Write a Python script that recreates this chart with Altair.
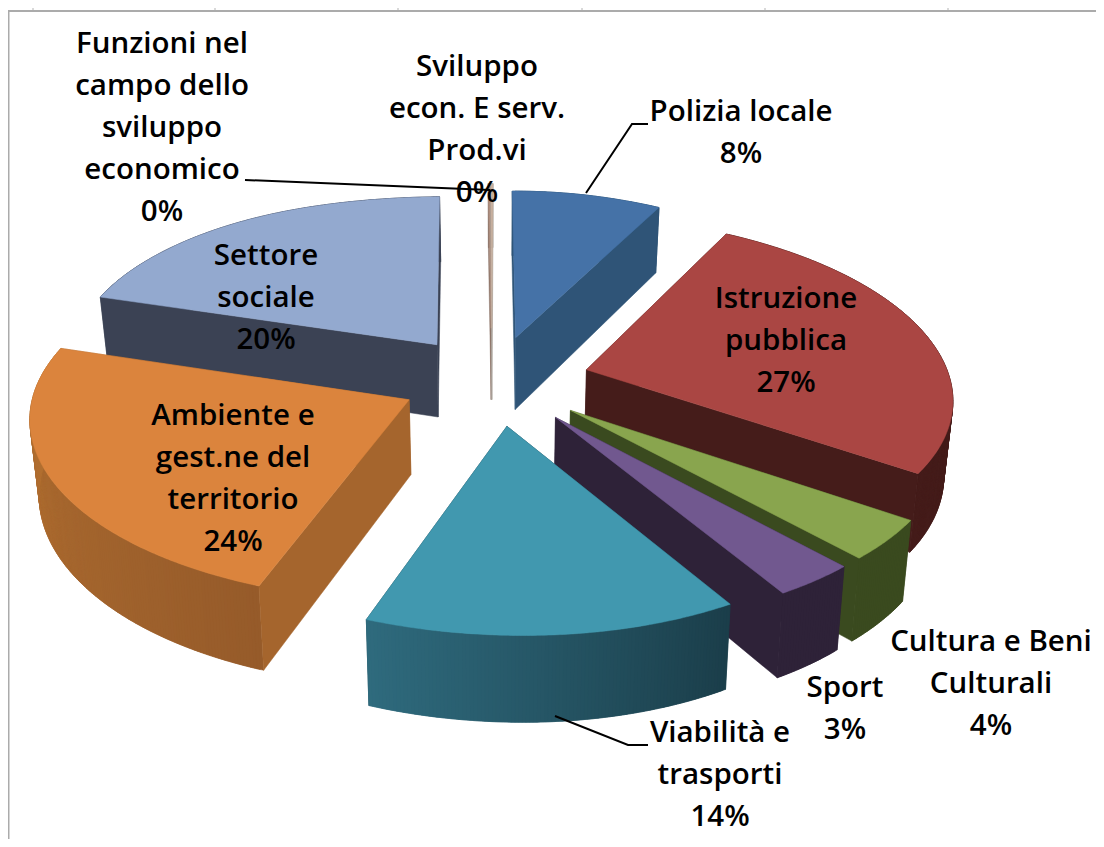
import math
import altair as alt

# ---- data (clockwise from 12 o'clock) ----
categories = ["Polizia locale", "Istruzione pubblica", "Cultura e Beni Culturali", "Sport",
              "Viabilità e trasporti", "Ambiente e gest.ne del territorio", "Settore sociale",
              "Funzioni nel campo dello sviluppo economico", "Sviluppo econ. E serv. Prod.vi"]
values = [8, 26.7, 3.8, 3.25, 14.25, 24, 20, 0.1, 0.1]
top_colors = ["#4572A7", "#AA4643", "#89A54E", "#71588F", "#4198AF", "#DB843D", "#93A9CF", "#B09080", "#C8B09F"]
wall_start = ["#2F5477", "#451C1A", "#3A4A1F", "#2E2238", "#1B3E4A", "#965B2A", "#3B4254", "#8C7468", "#A8A098"]
wall_end = ["#2F5477", "#451C1A", "#3A4A1F", "#2E2238", "#2F6B7E", "#B87433", "#3B4254", "#8C7468", "#A8A098"]
side_colors = ["#2F5477", "#451C1A", "#3A4A1F", "#2E2238", "#1B3E4A", "#A5652D", "#3B4254", "#8C7468", "#A8A098"]
draw_order = [7, 8, 6, 0, 1, 2, 3, 5, 4]
explode = [0.26, 0.26, 0.26, 0.26, 0.26, 0.26, 0.26, 0.31, 0.31]

label_lines = [
    ["Polizia locale", "8%"],
    ["Istruzione", "pubblica", "27%"],
    ["Cultura e Beni", "Culturali", "4%"],
    ["Sport", "3%"],
    ["Viabilità e", "trasporti", "14%"],
    ["Ambiente e", "gest.ne del", "territorio", "24%"],
    ["Settore", "sociale", "20%"],
    ["Funzioni nel", "campo dello", "sviluppo", "economico", "0%"],
    ["Sviluppo", "econ. E serv.", "Prod.vi", "0%"],
]
# layout (page pixels): centre of the first line of each label
label_x = [741, 786, 991, 845, 720, 233, 266, 162, 477]
label_y = [111.5, 298.5, 641.5, 687.5, 732.5, 415.5, 255.5, 43.5, 66.5]
LINE = 42.2

leaders = [
    [[245, 180], [490, 190]],
    [[586, 193], [632, 124], [648, 124]],
    [[555, 716], [628, 745], [648, 745]],
]
frame = [[[1104, 11], [8.5, 11], [8.5, 847]]]
stubs = [33, 215, 398, 582, 765, 948]

# ---- perspective of the pie ----
CX, CY, RX_L, RX_R, RY, P, K, DEPTH = 496, 380, 372, 363, 173, 0.117, -13, 74
TOP_RIGHT, TOP_LEFT = 10, 12   # straightening of the radial edges at 12 o'clock


def proj(u, v):
    s = 1 / (1 + P * v)
    return CX + ((RX_R if u > 0 else RX_L) * u + K * v) * s, CY - RY * v * s, s


def rim_pt(u0, v0, a):
    x, y, s = proj(u0 + math.sin(a), v0 + math.cos(a))
    c = math.cos(a)
    if c > 0:
        x += (TOP_RIGHT if math.sin(a) >= 0 else TOP_LEFT) * c ** 17
    return x, y, s


def low(pt):
    return [CX + (pt[0] - CX) * 0.98, pt[1] + DEPTH * pt[2]]


def mix(a, b, t):
    ca = [int(a[i:i + 2], 16) for i in (1, 3, 5)]
    cb = [int(b[i:i + 2], 16) for i in (1, 3, 5)]
    return "#%02x%02x%02x" % tuple(round(x + (y - x) * t) for x, y in zip(ca, cb))


def feat(pts, color):
    ring = [[round(p[0], 2), round(p[1], 2)] for p in pts]
    ring.append(ring[0])
    return {"type": "Feature", "geometry": {"type": "Polygon", "coordinates": [ring]},
            "properties": {"color": color}}


def band(pts, color):
    return feat([p[:2] for p in pts] + [low(p) for p in reversed(pts)], color)


total = sum(values)
bounds = [0]
for val in values:
    bounds.append(bounds[-1] + val / total * 2 * math.pi)

polys = []
for i in draw_order:
    a0, a1 = bounds[i], bounds[i + 1]
    mid = (a0 + a1) / 2
    u0, v0 = explode[i] * math.sin(mid), explode[i] * math.cos(mid)
    apex = proj(u0, v0)
    n = max(2, int((a1 - a0) / math.radians(0.5)))
    angs = [a0 + (a1 - a0) * k / n for k in range(n + 1)]
    rim = [rim_pt(u0, v0, a) for a in angs]
    # radial walls, rear-facing first
    walls = [(math.sin(a0), [apex, rim[0]]), (math.cos(a1 + math.pi / 2), [apex, rim[-1]])]
    rear = [w[1] for w in walls if w[0] >= 0]
    front = [w[1] for w in walls if w[0] < 0]
    for pts in rear:
        polys.append(band(pts, side_colors[i]))
    for k in range(n):
        polys.append(band(rim[k:k + 3], mix(wall_start[i], wall_end[i], k / n)))
    for pts in front:
        polys.append(band(pts, side_colors[i]))
    polys.append(feat([apex[:2]] + [r[:2] for r in rim], top_colors[i]))

projection = alt.Projection(type="identity", scale=1, translate=[-8, -8])

pie = alt.Chart(alt.Data(values=polys)).mark_geoshape(strokeWidth=0.5).encode(
    fill=alt.Color("properties.color:N", scale=None),
    stroke=alt.Color("properties.color:N", scale=None),
).project(**projection.to_dict())


def lines_chart(paths, color, width):
    feats = [{"type": "Feature", "geometry": {"type": "LineString", "coordinates": p}, "properties": {}}
             for p in paths]
    return alt.Chart(alt.Data(values=feats)).mark_geoshape(
        filled=False, stroke=color, strokeWidth=width).project(**projection.to_dict())


stub_layer = lines_chart([[[x, 0], [x, 11]] for x in stubs], "#d9d9d9", 2)
frame_layer = lines_chart(frame, "#ababab", 2)
leader_layer = lines_chart(leaders, "#000000", 2)

rows = []
for lines, x, y in zip(label_lines, label_x, label_y):
    for j, line in enumerate(lines):
        rows.append({"t": line, "lon": x, "lat": y + j * LINE})

text = alt.Chart(alt.Data(values=rows)).mark_text(
    font="Open Sans", fontSize=29.5, fontWeight=600, color="black", align="center", baseline="middle"
).encode(longitude="lon:Q", latitude="lat:Q", text="t:N").project(**projection.to_dict())

chart = alt.layer(stub_layer, frame_layer, pie, leader_layer, text).properties(
    width=1088, height=831, padding=0, background="white"
).configure_view(stroke=None)

chart.save("out.html", embed_options={"renderer": "svg", "actions": False})
